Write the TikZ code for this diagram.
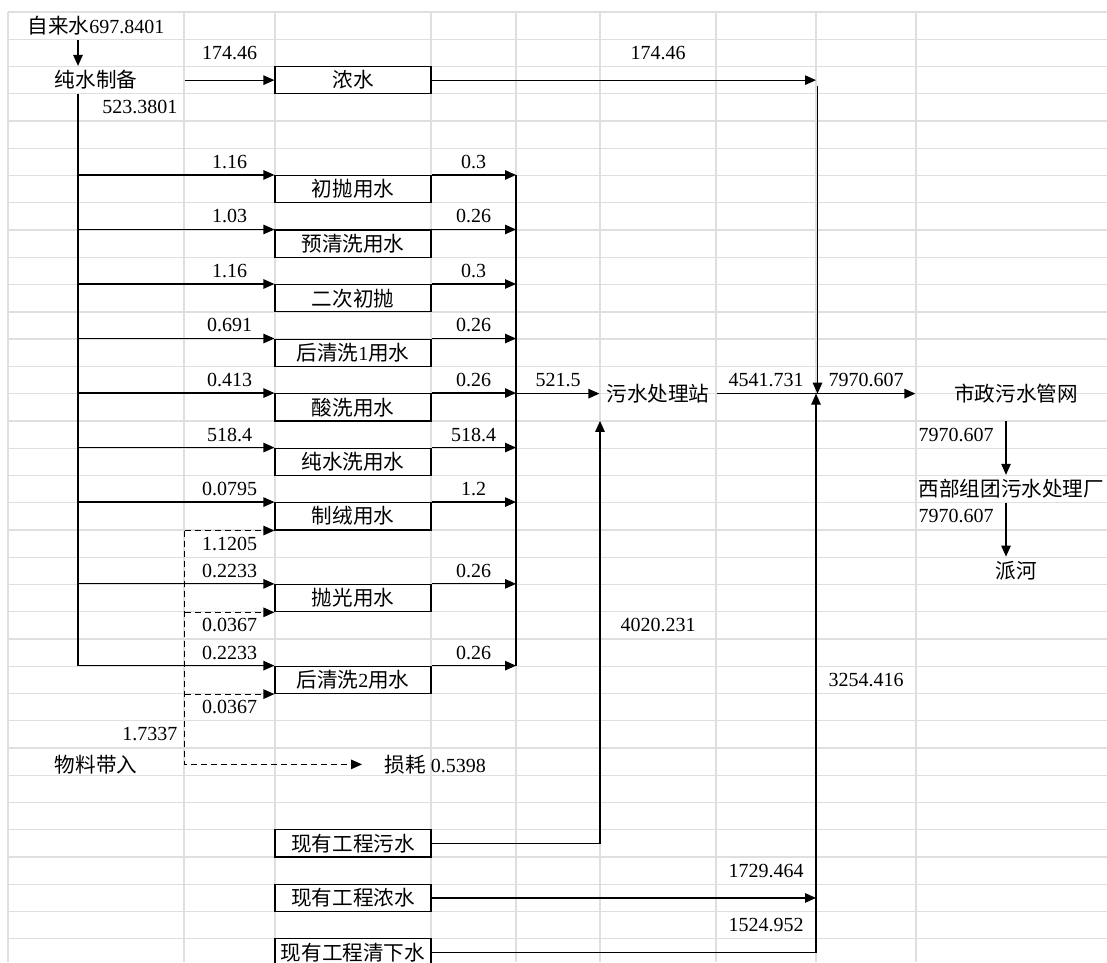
\documentclass[tikz,border=0pt]{standalone}
\usepackage{fontspec}
\setmainfont{Liberation Serif}
\newfontfamily\cjk[Scale=1.03]{Noto Sans CJK SC}
\usepackage{tikz}
\usetikzlibrary{arrows.meta,calc}

\begin{document}
\begin{tikzpicture}[
        x=1pt, y=-27.26pt, line width=1.2pt,
        cell/.style={inner sep=0pt, minimum height=27.26pt, font=\fontsize{20}{22}\selectfont},
        sbox/.style={cell, draw, minimum width=156pt},
        arr/.style={-{Triangle[length=11pt,width=9.5pt]}},
        darr/.style={arr, dash pattern=on 6pt off 4pt},
        gridline/.style={gray!25, line width=1.3pt}
    ]
    \useasboundingbox (0,-0.44) rectangle (1107,34.85);
    \clip (0,-0.44) rectangle (1107,34.85);
    % sheet grid
    \foreach \k in {0,...,34} \draw[gridline] (8,\k) -- (1107,\k);
    \foreach \x in {8,184,275,431,516,600,716,816,916} \draw[gridline] (\x,0) -- (\x,34.85);

    % supply and pure water
    \node[cell] (tap) at (96,0.5) {{\cjk 自来水}697.8401};
    \node[cell, minimum width=176pt] (pure) at (96,2.5) {\cjk 纯水制备};
    \node[sbox] (conc) at (353,2.5) {\cjk 浓水};
    \coordinate (trunk) at (78,3);
    \coordinate (coll)  at (516,14);
    \coordinate (jtop)  at (816,2.5);
    \coordinate (jtop2) at (817.5,2.7);
    \coordinate (jmid)  at (816,14);
    \node[cell] (q174a) at (229.5,1.5) {174.46};
    \node[cell] (q174b) at (658,1.5) {174.46};
    \node[cell, anchor=east] (q523) at (178,3.5) {523.3801};
    \draw[arr] (tap.south -| trunk) -- (pure.north -| trunk);
    \draw[arr] (pure.east) -- (conc.west);
    \draw[arr] (conc.east) -- (jtop);
    \draw[arr] (jtop2) -- (jtop2 |- jmid);

    % process steps
    \node[sbox] (b1) at (353,6.5)  {\cjk 初抛用水};
    \node[sbox] (b2) at (353,8.5)  {\cjk 预清洗用水};
    \node[sbox] (b3) at (353,10.5) {\cjk 二次初抛};
    \node[sbox] (b4) at (353,12.5) {{\cjk 后清洗}1{\cjk 用水}};
    \node[sbox] (b5) at (353,14.5) {\cjk 酸洗用水};
    \node[sbox] (b6) at (353,16.5) {\cjk 纯水洗用水};
    \node[sbox] (b7) at (353,18.5) {\cjk 制绒用水};
    \node[sbox] (b8) at (353,21.5) {\cjk 抛光用水};
    \node[sbox] (b9) at (353,24.5) {{\cjk 后清洗}2{\cjk 用水}};
    \node[cell] (i1) at (229.5,5.5)  {1.16};    \node[cell] (o1) at (473.5,5.5)  {0.3};
    \node[cell] (i2) at (229.5,7.5)  {1.03};    \node[cell] (o2) at (473.5,7.5)  {0.26};
    \node[cell] (i3) at (229.5,9.5)  {1.16};    \node[cell] (o3) at (473.5,9.5)  {0.3};
    \node[cell] (i4) at (229.5,11.5) {0.691};   \node[cell] (o4) at (473.5,11.5) {0.26};
    \node[cell] (i5) at (229.5,13.5) {0.413};   \node[cell] (o5) at (473.5,13.5) {0.26};
    \node[cell] (i6) at (229.5,15.5) {518.4};   \node[cell] (o6) at (473.5,15.5) {518.4};
    \node[cell] (i7) at (229.5,17.5) {0.0795};  \node[cell] (o7) at (473.5,17.5) {1.2};
    \node[cell] (i8) at (229.5,20.5) {0.2233};  \node[cell] (o8) at (473.5,20.5) {0.26};
    \node[cell] (i9) at (229.5,23.5) {0.2233};  \node[cell] (o9) at (473.5,23.5) {0.26};
    \draw (pure.south -| trunk) -- (b9.north west -| trunk);
    \draw (b1.north east -| coll) -- (b9.north east -| coll);
    \draw[arr] (b1.north west -| trunk) -- (b1.north west);  \draw[arr] (b1.north east) -- (b1.north east -| coll);
    \draw[arr] (b2.north west -| trunk) -- (b2.north west);  \draw[arr] (b2.north east) -- (b2.north east -| coll);
    \draw[arr] (b3.north west -| trunk) -- (b3.north west);  \draw[arr] (b3.north east) -- (b3.north east -| coll);
    \draw[arr] (b4.north west -| trunk) -- (b4.north west);  \draw[arr] (b4.north east) -- (b4.north east -| coll);
    \draw[arr] (b5.north west -| trunk) -- (b5.north west);  \draw[arr] (b5.north east) -- (b5.north east -| coll);
    \draw[arr] (b6.north west -| trunk) -- (b6.north west);  \draw[arr] (b6.north east) -- (b6.north east -| coll);
    \draw[arr] (b7.north west -| trunk) -- (b7.north west);  \draw[arr] (b7.north east) -- (b7.north east -| coll);
    \draw[arr] (b8.north west -| trunk) -- (b8.north west);  \draw[arr] (b8.north east) -- (b8.north east -| coll);
    \draw[arr] (b9.north west -| trunk) -- (b9.north west);  \draw[arr] (b9.north east) -- (b9.north east -| coll);

    % material brought in
    \node[cell, minimum width=176pt] (mat) at (96,27.6) {\cjk 物料带入};
    \node[cell, anchor=west] (loss) at (384,27.6) {{\cjk 损耗} 0.5398};
    \node[cell] (m1) at (229.5,19.5) {1.1205};
    \node[cell] (m2) at (229.5,22.5) {0.0367};
    \node[cell] (m3) at (229.5,25.5) {0.0367};
    \node[cell, anchor=east] (m0) at (178,26.5) {1.7337};
    \draw[darr] (b7.south west -| mat.east) -- (b7.south west);
    \draw[darr] (b8.south west -| mat.east) -- (b8.south west);
    \draw[darr] (b9.south west -| mat.east) -- (b9.south west);
    \draw[darr] (b7.south west -| mat.east) -- (mat.east) -- ([xshift=-22pt]loss.west);

    % treatment and discharge
    \node[cell, minimum width=116pt] (wwtp) at (658,14) {\cjk 污水处理站};
    \node[cell, minimum width=200pt] (muni) at (1016,14) {\cjk 市政污水管网};
    \node[cell, anchor=west] (plant) at (918,17.5) {\cjk 西部组团污水处理厂};
    \node[cell] (river) at (1016,20.5) {\cjk 派河};
    \coordinate (drop) at (1006,15);
    \node[cell] (q521) at (558,13.5) {521.5};
    \node[cell] (q4541) at (766,13.5) {4541.731};
    \node[cell] (q7970a) at (866,13.5) {7970.607};
    \node[cell, anchor=west] (q7970b) at (918,15.5) {7970.607};
    \node[cell, anchor=west] (q7970c) at (918,18.5) {7970.607};
    \draw[arr] (coll) -- (wwtp.west);
    \draw (wwtp.east) -- (jmid);
    \draw[arr] (jmid) -- (muni.west);
    \draw[arr] (drop) -- (drop |- plant.north);
    \draw[arr] (drop |- plant.south) -- (drop |- river.north);

    % existing project
    \node[sbox] (exs) at (353,30.5) {\cjk 现有工程污水};
    \node[sbox] (exc) at (353,32.5) {\cjk 现有工程浓水};
    \node[sbox] (exr) at (353,34.5) {\cjk 现有工程清下水};
    \coordinate (win) at (600,15);
    \node[cell] (q4020) at (658,22.5) {4020.231};
    \node[cell] (q3254) at (866,24.5) {3254.416};
    \node[cell] (q1729) at (766,31.5) {1729.464};
    \node[cell] (q1524) at (766,33.5) {1524.952};
    \draw[arr] (exs.east) -| (win);
    \draw[arr] (exc.east) -- (exc.east -| jmid);
    \draw[arr] (exr.east) -| (jmid);
\end{tikzpicture}
\end{document}
